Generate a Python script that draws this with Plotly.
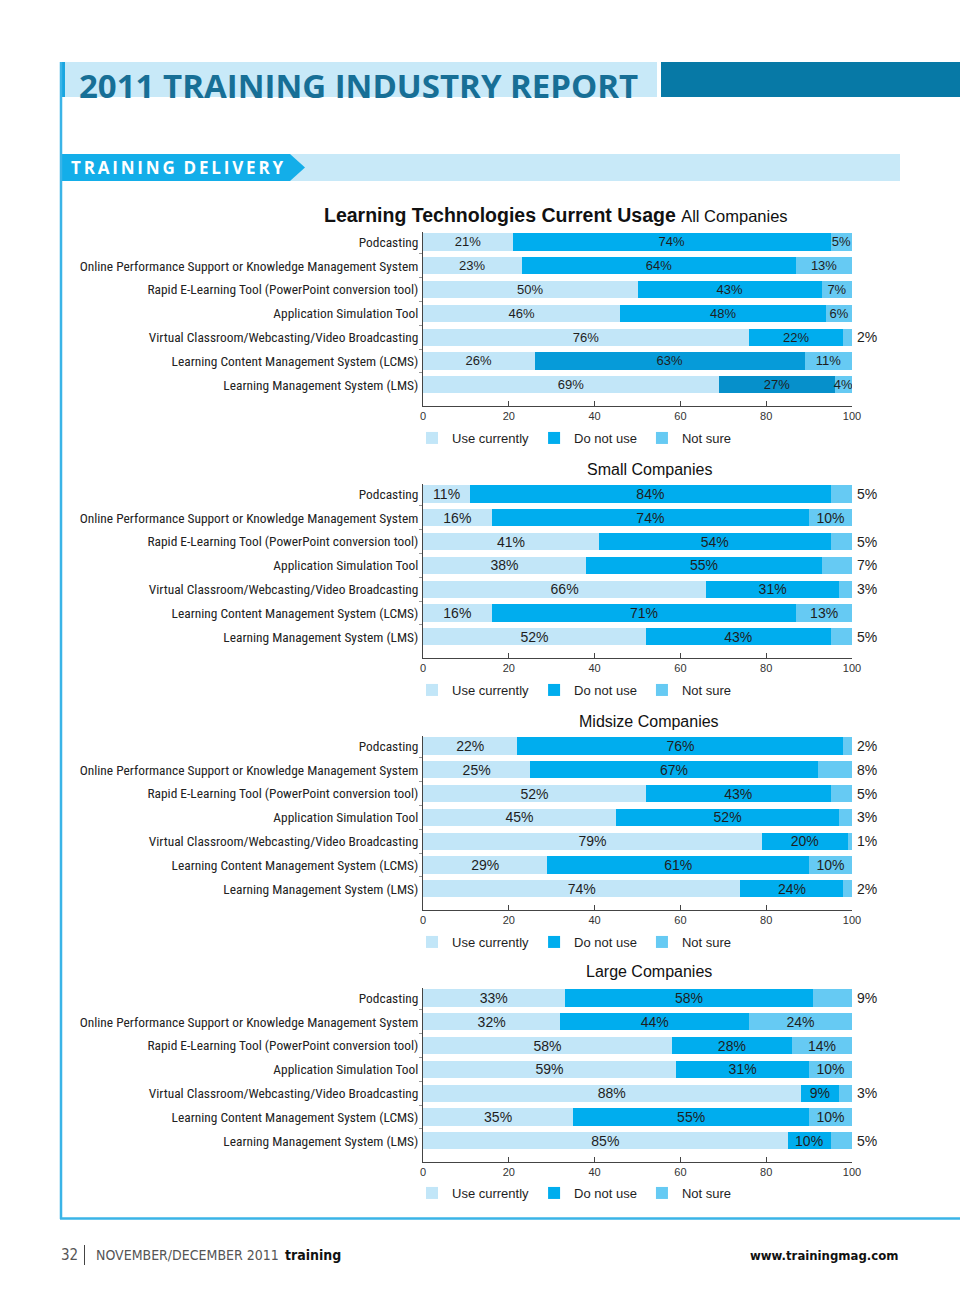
import subprocess
import plotly.graph_objects as go

W, H = 960, 1290

# ---------------- data ----------------
technologies = [
    "Podcasting",
    "Online Performance Support or Knowledge Management System",
    "Rapid E-Learning Tool (PowerPoint conversion tool)",
    "Application Simulation Tool",
    "Virtual Classroom/Webcasting/Video Broadcasting",
    "Learning Content Management System (LCMS)",
    "Learning Management System (LMS)",
]
series_names = ["Use currently", "Do not use", "Not sure"]
panel_titles = ["All Companies", "Small Companies", "Midsize Companies", "Large Companies"]

all_use = [21, 23, 50, 46, 76, 26, 69]
all_not = [74, 64, 43, 48, 22, 63, 27]
all_unsure = [5, 13, 7, 6, 2, 11, 4]

small_use = [11, 16, 41, 38, 66, 16, 52]
small_not = [84, 74, 54, 55, 31, 71, 43]
small_unsure = [5, 10, 5, 7, 3, 13, 5]

mid_use = [22, 25, 52, 45, 79, 29, 74]
mid_not = [76, 67, 43, 52, 20, 61, 24]
mid_unsure = [2, 8, 5, 3, 1, 10, 2]

large_use = [33, 32, 58, 59, 88, 35, 85]
large_not = [58, 44, 28, 31, 9, 55, 10]
large_unsure = [9, 24, 14, 10, 3, 10, 5]

x_ticks = [0, 20, 40, 60, 80, 100]

panels = [
    (all_use, all_not, all_unsure),
    (small_use, small_not, small_unsure),
    (mid_use, mid_not, mid_unsure),
    (large_use, large_not, large_unsure),
]

# ---------------- fonts ----------------
try:
    _fams = subprocess.run(["fc-list", ":", "family"], capture_output=True,
                           text=True, timeout=10).stdout
except Exception:
    _fams = ""
# (family, size so that the longest label is about 340 px wide)
_cands = [("Liberation Sans Narrow", 14.2), ("Roboto Condensed", 13.4),
          ("Noto Sans Condensed", 13.0), ("DejaVu Sans Condensed", 11.6)]
COND, COND_SIZE = "DejaVu Sans Condensed", 11.6
for fam, sz in _cands:
    if fam in _fams:
        COND, COND_SIZE = fam, sz
        break
COND_FAMILY = COND + ", DejaVu Sans Condensed, sans-serif"
FOOT = "DejaVu Sans Condensed, sans-serif"

# ---------------- styles ----------------
C_USE = "#c2e6f8"
C_NOT = "#00adee"
C_UNSURE = "#66caf3"
NOT_COLORS_P1 = [C_NOT, C_NOT, C_NOT, C_NOT, C_NOT, "#069bd9", "#0690cb"]
SANS = "Liberation Sans, Arial, Helvetica, sans-serif"
TXT = "#1e1e1e"


def px(x):
    return x / W


def py(y):
    return 1 - y / H


ROW = 23.8
TOP_PAD = 0.42
BOT_PAD = 6.88
first_rows = [242, 494, 746, 998]
title_y = [215, 469, 721, 971]
legend_y = [423, 675, 927, 1178]
outside_threshold = [3, 9, 9, 9]
label_sizes = [13, 14, 14, 14]

fig = go.Figure()
layout = dict(
    width=W, height=H, margin=dict(l=0, r=0, t=0, b=0, autoexpand=False),
    paper_bgcolor="white", plot_bgcolor="white",
    barmode="stack", bargap=0.27, showlegend=True,
)
annotations = []
shapes = []

for k, (use, notu, unsure) in enumerate(panels):
    sfx = "" if k == 0 else str(k + 1)
    xa, ya = "x" + sfx, "y" + sfx
    leg = "legend" + sfx
    c0 = first_rows[k]
    top = c0 - TOP_PAD * ROW
    bot = c0 + BOT_PAD * ROW
    fs = label_sizes[k]
    not_colors = NOT_COLORS_P1 if k == 0 else C_NOT
    vals = [use, notu, unsure]
    colors = [C_USE, not_colors, C_UNSURE]
    for s in range(3):
        v = vals[s]
        if s == 2:
            texts = [f"{a}%" if a > outside_threshold[k] else "" for a in v]
        else:
            texts = [f"{a}%" for a in v]
        fig.add_trace(go.Bar(
            x=v, y=technologies, orientation="h", name=series_names[s],
            marker=dict(color=colors[s], line=dict(width=0)),
            text=texts, textposition="inside", insidetextanchor="middle",
            constraintext="none", textangle=0,
            textfont=dict(family=SANS, size=fs, color=TXT),
            xaxis=xa, yaxis=ya, legend=leg, hoverinfo="skip",
        ))
    # outside labels for small "Not sure" segments
    for i, a in enumerate(unsure):
        if a <= outside_threshold[k]:
            annotations.append(dict(
                x=100, y=technologies[i], xref=xa, yref=ya, text=f"{a}%",
                showarrow=False, xanchor="left", xshift=3,
                font=dict(family=SANS, size=14, color=TXT)))

    layout["xaxis" + sfx] = dict(
        domain=[px(423), px(852)], anchor=ya, range=[0, 100],
        tickvals=x_ticks, ticks="inside", ticklen=5, tickcolor="#444",
        showline=True, linecolor="#444", linewidth=1, showgrid=False,
        zeroline=False, tickfont=dict(family=SANS, size=11, color="#333"),
        fixedrange=True, automargin=False,
    )
    layout["yaxis" + sfx] = dict(
        domain=[py(bot), py(top)], anchor=xa,
        categoryorder="array", categoryarray=technologies,
        range=[BOT_PAD, -TOP_PAD], showline=True, linecolor="#444",
        linewidth=1, ticks="outside", ticklen=3, tickcolor="#999",
        tickson="boundaries", showgrid=False, zeroline=False,
        tickfont=dict(family=COND_FAMILY, size=COND_SIZE, color="#222"),
        ticklabelstandoff=1, fixedrange=True, automargin=False,
    )
    layout[leg] = dict(
        orientation="h", x=px(412), y=py(legend_y[k]), xanchor="left",
        yanchor="top", font=dict(family=SANS, size=13, color=TXT),
        bgcolor="rgba(0,0,0,0)", itemwidth=30, traceorder="normal",
        itemclick=False, itemdoubleclick=False, tracegroupgap=0,
    )
    if k == 0:
        annotations.append(dict(
            x=px(556), y=py(title_y[k]), xref="paper", yref="paper",
            text="<b>Learning Technologies Current Usage</b> "
                 "<span style='font-size:16.5px'>All Companies</span>",
            showarrow=False, xanchor="center", yanchor="middle",
            font=dict(family=SANS, size=19.5, color="#111")))
    else:
        annotations.append(dict(
            x=px(649), y=py(title_y[k]), xref="paper", yref="paper",
            text=panel_titles[k], showarrow=False, xanchor="center",
            yanchor="middle", font=dict(family=SANS, size=16, color="#111")))

# ---------------- page decoration ----------------
def rect(x0, y0, x1, y1, color):
    shapes.append(dict(type="rect", xref="paper", yref="paper",
                       x0=px(x0), x1=px(x1), y0=py(y1), y1=py(y0),
                       fillcolor=color, line=dict(width=0), layer="below"))

rect(62, 62, 657, 97, "#c8e9f8")
rect(661, 62, 960, 97, "#0779a6")
rect(60, 62, 65, 97, "#1aa6e0")
rect(62, 154, 900, 181, "#c8e9f8")
shapes.append(dict(
    type="path", xref="paper", yref="paper",
    path=(f"M {px(62)},{py(154)} L {px(290)},{py(154)} L {px(305)},{py(167.5)} "
          f"L {px(290)},{py(181)} L {px(62)},{py(181)} Z"),
    fillcolor="#13aee9", line=dict(width=0), layer="below"))
# frame
shapes.append(dict(type="line", xref="paper", yref="paper",
                   x0=px(61), x1=px(61), y0=py(62), y1=py(1219),
                   line=dict(color="#3ab4e7", width=2.5)))
shapes.append(dict(type="line", xref="paper", yref="paper",
                   x0=px(60), x1=px(960), y0=py(1218.5), y1=py(1218.5),
                   line=dict(color="#3ab4e7", width=2.5)))
# footer separator
shapes.append(dict(type="line", xref="paper", yref="paper",
                   x0=px(84.5), x1=px(84.5), y0=py(1245), y1=py(1265),
                   line=dict(color="#444", width=1)))

THIN = "\u2009"
annotations += [
    dict(x=px(77), y=py(85), xref="paper", yref="paper",
         text="<b>2011 TRAINING INDUSTRY REPORT</b>",
         showarrow=False, xanchor="left", yanchor="middle",
         font=dict(family="Open Sans, Lato, sans-serif", size=33, color="#176f96")),
    dict(x=px(69), y=py(167.5), xref="paper", yref="paper",
         text="<b>" + THIN.join("TRAINING") + "  " + THIN.join("DELIVERY") + "</b>",
         showarrow=False, xanchor="left", yanchor="middle",
         font=dict(family="Open Sans, sans-serif", size=17, color="white")),
    dict(x=px(59), y=py(1255), xref="paper", yref="paper", text="32",
         showarrow=False, xanchor="left", yanchor="middle",
         font=dict(family=FOOT, size=15, color="#555")),
    dict(x=px(94), y=py(1255), xref="paper", yref="paper",
         text="NOVEMBER/DECEMBER 2011", showarrow=False, xanchor="left",
         yanchor="middle", font=dict(family=FOOT, size=14, color="#555")),
    dict(x=px(283), y=py(1255), xref="paper", yref="paper",
         text="<b>training</b>", showarrow=False, xanchor="left",
         yanchor="middle", font=dict(family=FOOT, size=14, color="#111")),
    dict(x=px(900), y=py(1255), xref="paper", yref="paper",
         text="<b>www.trainingmag.com</b>", showarrow=False, xanchor="right",
         yanchor="middle", font=dict(family=FOOT, size=13, color="#111")),
]

layout["annotations"] = annotations
layout["shapes"] = shapes
fig.update_layout(**layout)
fig.write_html("out.html", config={"displayModeBar": False},
               post_script="document.body.style.margin='0px';")
